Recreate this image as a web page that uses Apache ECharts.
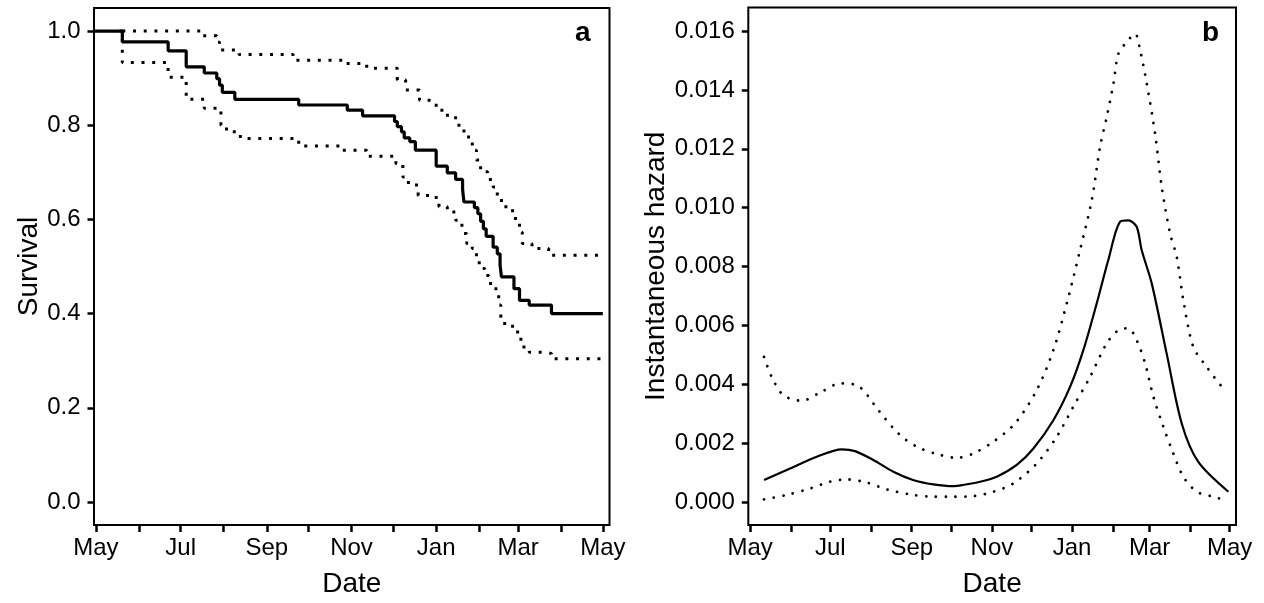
<!DOCTYPE html>
<html>
<head>
<meta charset="utf-8">
<title>Survival and instantaneous hazard</title>
<script src="https://cdn.jsdelivr.net/npm/echarts@6/dist/echarts.min.js"></script>
<style>
  html, body { margin: 0; padding: 0; background: #fff; }
  #chart { width: 1264px; height: 603px; }
</style>
</head>
<body>
<div id="chart"></div>
<script>
// Days counted from 1 May; month starts for ticks, every other month labelled.
const monthStartDays = [0, 31, 61, 92, 123, 153, 184, 214, 245, 276, 304, 335, 365];
const labelDays = [0, 61, 123, 184, 245, 304, 365];
const labelNames = ['May', 'Jul', 'Sep', 'Nov', 'Jan', 'Mar', 'May'];

// Panel a: Kaplan-Meier survival with confidence band (step functions)
const survTicks = [0, 0.2, 0.4, 0.6, 0.8, 1.0];
const survDays = [-1, 19, 52, 65, 78, 87, 89, 91, 100, 146, 181, 192, 215, 217, 220, 222, 226, 230, 245, 253, 259, 264, 264.5, 265, 272.5, 275, 277, 279, 281, 286, 289, 291, 292, 301, 305, 312, 328, 365];
const survival = [1.000, 0.977, 0.958, 0.924, 0.911, 0.899, 0.885, 0.870, 0.855, 0.843, 0.832, 0.820, 0.808, 0.797, 0.786, 0.773, 0.765, 0.747, 0.713, 0.699, 0.685, 0.665, 0.650, 0.637, 0.625, 0.612, 0.596, 0.580, 0.564, 0.541, 0.527, 0.503, 0.478, 0.453, 0.428, 0.418, 0.400, 0.400];
const upperDays = [19, 76, 87, 89, 103, 142, 178, 195, 217, 223, 233, 240, 245, 252, 259, 265, 271, 274, 277, 282, 286, 289, 292, 300, 305, 307, 314, 326, 365];
const survUpper = [1.0, 0.99, 0.976, 0.96, 0.95, 0.938, 0.931, 0.921, 0.896, 0.875, 0.853, 0.85, 0.832, 0.821, 0.80, 0.775, 0.747, 0.726, 0.701, 0.685, 0.669, 0.65, 0.627, 0.602, 0.573, 0.549, 0.538, 0.524, 0.524];
const lowerDays = [17, 19, 52, 65, 78, 90, 94, 104, 146, 176, 195, 216, 221, 225, 232, 245, 247, 253, 259, 263.5, 264.5, 267, 271, 274, 276, 280, 283, 288, 290, 291.5, 292, 300, 306, 312, 325, 328, 365];
const survLower = [1.0, 0.933, 0.902, 0.855, 0.836, 0.80, 0.786, 0.772, 0.756, 0.747, 0.734, 0.719, 0.69, 0.673, 0.651, 0.641, 0.627, 0.616, 0.598, 0.588, 0.570, 0.549, 0.538, 0.520, 0.496, 0.481, 0.464, 0.443, 0.418, 0.396, 0.379, 0.361, 0.329, 0.318, 0.315, 0.304, 0.304];

// Panel b: instantaneous hazard with confidence band
const hazardTicks = [0, 0.002, 0.004, 0.006, 0.008, 0.010, 0.012, 0.014, 0.016];
const hazardDays = [10.6, 30.4, 50.7, 69.7, 79.8, 93.8, 109, 124, 139.4, 154.7, 162, 175, 187.7, 202.9, 215.6, 230.8, 243.5, 253.6, 263.8, 272.6, 281.5, 287.9, 294.2, 298, 305.7, 317, 328.5, 341, 364];
const hazard = [0.00075, 0.00114, 0.00154, 0.00179, 0.00173, 0.00143, 0.00103, 0.00075, 0.00060, 0.00054, 0.00058, 0.00069, 0.00086, 0.00126, 0.00182, 0.00278, 0.00391, 0.00516, 0.00675, 0.00822, 0.00952, 0.00957, 0.00935, 0.00856, 0.00742, 0.00505, 0.00267, 0.00137, 0.00035];
const hazUpperDays = [10.6, 16.4, 25.3, 39.3, 54.5, 68.4, 82.4, 97.6, 112.8, 126.8, 144.5, 157.3, 169.9, 185.1, 201.6, 218.1, 230.8, 241, 251.1, 260, 266.3, 271.4, 276.5, 280.3, 286.6, 293, 296.8, 301.9, 308.2, 313.3, 319.6, 324.7, 329.7, 337.3, 347.5, 359.7, 364];
const hazUpper = [0.00493, 0.00425, 0.00363, 0.00344, 0.00375, 0.00403, 0.00394, 0.00312, 0.00233, 0.00188, 0.00160, 0.00150, 0.00165, 0.00205, 0.00267, 0.00380, 0.00516, 0.00675, 0.00856, 0.01025, 0.01206, 0.01308, 0.01421, 0.01523, 0.01563, 0.01591, 0.01535, 0.01421, 0.01252, 0.01070, 0.00912, 0.00833, 0.00686, 0.00527, 0.00459, 0.00389, 0.00380];
const hazLowerDays = [10.6, 27.8, 45.6, 60.8, 73.5, 88.7, 104, 121.7, 139.4, 154.7, 169.9, 185.1, 200.3, 218.1, 233.4, 246, 258.7, 271.4, 280.3, 287.9, 294.2, 300.6, 306.9, 314.5, 322.1, 329.7, 339.9, 352.6, 363.2];
const hazLower = [0.00009, 0.00024, 0.00046, 0.00069, 0.00077, 0.00066, 0.00043, 0.00026, 0.00018, 0.00018, 0.00020, 0.00035, 0.00063, 0.00131, 0.00222, 0.00324, 0.00425, 0.00539, 0.00584, 0.00590, 0.00550, 0.00471, 0.00358, 0.00256, 0.00165, 0.00086, 0.00035, 0.00018, 0.00004];

const FONT = "'Liberation Sans', Arial, Helvetica, sans-serif";
const zip = (xs, ys) => xs.map((x, i) => [x, ys[i]]);

function dateAxis(gridIndex) {
  return {
    type: 'value', gridIndex: gridIndex, min: -1.4, max: 369.8,
    name: 'Date', nameLocation: 'middle', nameGap: 45,
    nameTextStyle: { fontSize: 28, color: '#000', fontFamily: FONT },
    axisLine: { show: false, onZero: false },
    axisTick: { show: true, length: 7, customValues: monthStartDays, lineStyle: { color: '#000', width: 2.5 } },
    axisLabel: {
      customValues: labelDays, margin: 11, fontSize: 24, color: '#000', fontFamily: FONT,
      formatter: v => labelNames[labelDays.indexOf(v)]
    },
    splitLine: { show: false }
  };
}

function valueAxis(gridIndex, opts) {
  return {
    type: 'value', gridIndex: gridIndex, min: opts.min, max: opts.max,
    name: opts.name, nameLocation: 'middle', nameGap: opts.nameGap,
    nameTextStyle: { fontSize: 28, color: '#000', fontFamily: FONT },
    axisLine: { show: false, onZero: false },
    axisTick: { show: true, length: 6.5, customValues: opts.ticks, lineStyle: { color: '#000', width: 2.5 } },
    axisLabel: {
      customValues: opts.ticks, margin: 13.5, fontSize: 24, color: '#000', fontFamily: FONT,
      formatter: v => v.toFixed(opts.digits)
    },
    splitLine: { show: false }
  };
}

const stepDots = { color: '#000', width: 3, type: [3, 7.7], cap: 'butt' };
const roundDots = { color: '#000', width: 2.8, type: [0.01, 9.8], cap: 'round' };

const option = {
  animation: false,
  backgroundColor: '#fff',
  grid: [
    { left: 94, top: 8, width: 515.5, height: 517, show: true, borderColor: '#000', borderWidth: 2, backgroundColor: 'transparent' },
    { left: 748.3, top: 7.5, width: 487.7, height: 517.5, show: true, borderColor: '#000', borderWidth: 2, backgroundColor: 'transparent' }
  ],
  xAxis: [dateAxis(0), dateAxis(1)],
  yAxis: [
    valueAxis(0, { min: -0.049, max: 1.049, ticks: survTicks, digits: 1, name: 'Survival', nameGap: 50 }),
    valueAxis(1, { min: -0.00078, max: 0.0168, ticks: hazardTicks, digits: 3, name: 'Instantaneous hazard', nameGap: 78 })
  ],
  series: [
    { type: 'line', xAxisIndex: 0, yAxisIndex: 0, step: 'end', showSymbol: false, data: zip(upperDays, survUpper), lineStyle: stepDots },
    { type: 'line', xAxisIndex: 0, yAxisIndex: 0, step: 'end', showSymbol: false, data: zip(lowerDays, survLower), lineStyle: stepDots },
    { type: 'line', xAxisIndex: 0, yAxisIndex: 0, step: 'end', showSymbol: false, data: zip(survDays, survival), lineStyle: { color: '#000', width: 3.2 } },
    { type: 'line', xAxisIndex: 1, yAxisIndex: 1, smooth: 0.3, showSymbol: false, data: zip(hazUpperDays, hazUpper), lineStyle: roundDots },
    { type: 'line', xAxisIndex: 1, yAxisIndex: 1, smooth: 0.3, showSymbol: false, data: zip(hazLowerDays, hazLower), lineStyle: roundDots },
    { type: 'line', xAxisIndex: 1, yAxisIndex: 1, smooth: 0.3, showSymbol: false, data: zip(hazardDays, hazard), lineStyle: { color: '#000', width: 2.2 } }
  ],
  graphic: [
    { type: 'text', left: 575, top: 19, style: { text: 'a', fontSize: 28, fontWeight: 'bold', fill: '#000', fontFamily: FONT } },
    { type: 'text', left: 1202, top: 19, style: { text: 'b', fontSize: 28, fontWeight: 'bold', fill: '#000', fontFamily: FONT } }
  ]
};

const chart = echarts.init(document.getElementById('chart'), null, { renderer: 'canvas' });
chart.setOption(option);
</script>
</body>
</html>
